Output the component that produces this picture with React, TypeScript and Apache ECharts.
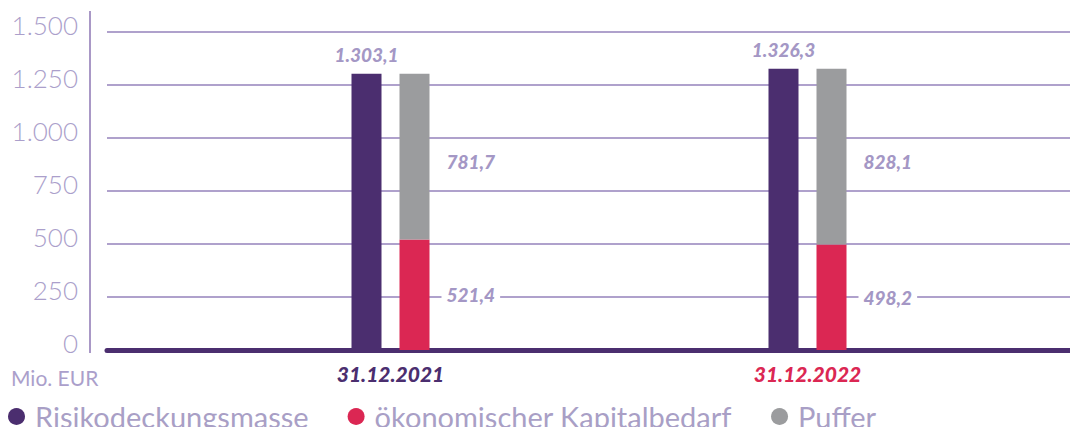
import React, { useEffect, useRef } from "react";
import * as echarts from "echarts";

const categories = ["31.12.2021", "31.12.2022"];
const categoryColors = ["#4b2e6f", "#db2753"];
const risikodeckungsmasse = [1303.1, 1326.3];
const kapitalbedarf = [521.4, 498.2];
const puffer = [781.7, 828.1];
const yTicks = { min: 0, max: 1500, interval: 250 };

const fmt = (v: number) => {
  const [i, d] = v.toFixed(1).split(".");
  return i.replace(/\B(?=(\d{3})+(?!\d))/g, ".") + "," + d;
};

const LABEL_COLOR = "#a497c5";
const GRID_COLOR = "#9582bb";

export default function App() {
  const ref = useRef<HTMLDivElement>(null);
  useEffect(() => {
    const chart = echarts.init(ref.current!, null, { renderer: "svg" });
    const valueLabel = {
      show: true,
      fontFamily: "Lato",
      fontWeight: 900,
      fontStyle: "italic",
      fontSize: 19,
      color: LABEL_COLOR,
      formatter: (p: any) => fmt(p.value),
    };
    chart.setOption({
      animation: false,
      grid: [
        { left: 107, right: 0, top: 32, bottom: 85 },
        { left: 182, right: 62, top: 32, bottom: 85 },
      ],
      xAxis: [
        {
          type: "category",
          gridIndex: 0,
          data: ["", ""],
          axisLine: { show: true, lineStyle: { color: "#4b2e6f", width: 5 } },
          axisTick: { show: false },
          axisLabel: { show: false },
        },
        {
          type: "category",
          gridIndex: 1,
          data: categories.map((c, i) => ({ value: c, textStyle: { color: categoryColors[i] } })),
          axisLine: { show: false },
          axisTick: { show: false },
          axisLabel: {
            margin: 13,
            fontFamily: "Lato",
            fontWeight: 900,
            fontStyle: "italic",
            fontSize: 21,
          },
        },
      ],
      yAxis: [
        {
          type: "value",
          gridIndex: 0,
          ...yTicks,
          axisLine: { show: false },
          axisTick: { show: false },
          splitLine: { lineStyle: { color: GRID_COLOR, width: 1.5 } },
          axisLabel: {
            margin: 29,
            fontFamily: "Lato",
            fontWeight: 300,
            fontSize: 26,
            color: "#ab9fcb",
            verticalAlign: "bottom",
            lineHeight: 14,
            formatter: (v: number) => String(v).replace(/\B(?=(\d{3})+(?!\d))/g, "."),
          },
        },
        {
          type: "value",
          gridIndex: 1,
          ...yTicks,
          show: false,
          splitLine: { show: false },
        },
      ],
      legend: {
        left: 8,
        top: 402,
        padding: 0,
        icon: "circle",
        itemWidth: 17,
        itemHeight: 17,
        itemGap: 39,
        textStyle: {
          fontFamily: "Lato",
          fontSize: 29,
          color: "#a99fc6",
          fontWeight: 400,
          padding: [0, 0, 0, 5],
        },
        data: ["Risikodeckungsmasse", "ökonomischer Kapitalbedarf", "Puffer"],
      },
      graphic: [
        {
          type: "line",
          shape: { x1: 90, y1: 11, x2: 90, y2: 353 },
          style: { stroke: "#8c76b3", lineWidth: 1.5 },
        },
        {
          type: "text",
          left: 11,
          top: 367,
          style: { text: "Mio. EUR", fontFamily: "Lato", fontSize: 21, fill: "#ab9fcb" },
        },
      ],
      series: [
        {
          name: "Risikodeckungsmasse",
          type: "bar",
          xAxisIndex: 1,
          yAxisIndex: 1,
          barWidth: 30,
          barGap: "60%",
          itemStyle: { color: "#4b2e6f" },
          data: risikodeckungsmasse,
          label: { ...valueLabel, position: "top", distance: 10 },
        },
        {
          name: "ökonomischer Kapitalbedarf",
          type: "bar",
          stack: "k",
          xAxisIndex: 1,
          yAxisIndex: 1,
          barWidth: 30,
          itemStyle: { color: "#db2753" },
          data: kapitalbedarf,
          label: {
            ...valueLabel,
            position: "right",
            distance: 12,
            backgroundColor: "#ffffff",
            padding: [2, 5, 2, 5],
          },
        },
        {
          name: "Puffer",
          type: "bar",
          stack: "k",
          xAxisIndex: 1,
          yAxisIndex: 1,
          barWidth: 30,
          itemStyle: { color: "#9b9c9e" },
          data: puffer,
          label: {
            ...valueLabel,
            position: "right",
            distance: 12,
            padding: [0, 5, 0, 5],
            offset: [0, 5],
          },
        },
      ],
    });
    return () => chart.dispose();
  }, []);
  return <div ref={ref} style={{ width: 1078, height: 435, margin: -8 }} />;
}
